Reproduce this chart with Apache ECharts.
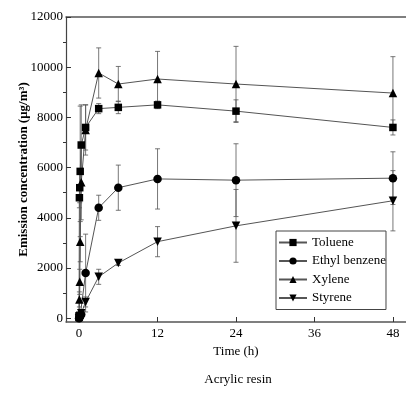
<!DOCTYPE html>
<html>
<head>
<meta charset="utf-8">
<script src="https://cdn.jsdelivr.net/npm/echarts@6/dist/echarts.min.js"></script>
<style>
  html, body { margin: 0; padding: 0; background: #fff; }
  #chart { width: 406px; height: 397px; }
</style>
</head>
<body>
<div id="chart"></div>
<script>
// 采样时间 (h)
var times = [0, 0.05, 0.1, 0.17, 0.33, 1, 3, 6, 12, 24, 48];

// 各物质浓度 / 误差 (μg/m3)
var toluene = [100, 4800, 5200, 5850, 6900, 7600, 8350, 8400, 8500, 8250, 7600];
var tolueneErr = [100, 400, 600, 2600, 1600, 900, 200, 250, 150, 450, 300];
var ethylBenzene = [0, 30, 60, 100, 150, 1800, 4400, 5200, 5550, 5500, 5580];
var ethylBenzeneErr = [20, 50, 80, 100, 150, 1550, 500, 900, 1200, 1450, 1050];
var xylene = [50, 750, 1450, 3050, 5420, 7500, 9770, 9330, 9530, 9330, 8970];
var xyleneErr = [50, 300, 500, 800, 1500, 1000, 1000, 700, 1100, 1500, 1450];
var styrene = [0, 20, 50, 100, 200, 650, 1650, 2200, 3050, 3680, 4680];
var styreneErr = [20, 30, 50, 80, 100, 200, 300, 100, 600, 1450, 1200];

var seriesNames = ['Toluene', 'Ethyl benzene', 'Xylene', 'Styrene'];

// 刻度
var xTicks = [0, 12, 24, 36, 48];
var yTicks = [0, 2000, 4000, 6000, 8000, 10000, 12000];
var yMinorTicks = [1000, 3000, 5000, 7000, 9000, 11000];

var serif = '"Liberation Serif", "DejaVu Serif", serif';

function pairs(values) {
  return times.map(function (t, i) { return [t, values[i]]; });
}
function errPairs(values, errs) {
  return times.map(function (t, i) { return [t, values[i] - errs[i], values[i] + errs[i]]; });
}

// 误差线绘制
function errorBarItem(params, api) {
  var x = api.value(0);
  var lo = api.coord([x, api.value(1)]);
  var hi = api.coord([x, api.value(2)]);
  var w = 2.5;
  var style = { stroke: '#555', lineWidth: 0.8 };
  return {
    type: 'group',
    children: [
      { type: 'line', shape: { x1: hi[0], y1: hi[1], x2: lo[0], y2: lo[1] }, style: style },
      { type: 'line', shape: { x1: hi[0] - w, y1: hi[1], x2: hi[0] + w, y2: hi[1] }, style: style },
      { type: 'line', shape: { x1: lo[0] - w, y1: lo[1], x2: lo[0] + w, y2: lo[1] }, style: style }
    ]
  };
}

function lineSeries(name, values, symbol, rotate) {
  return {
    name: name,
    type: 'line',
    data: pairs(values),
    symbol: symbol,
    symbolSize: symbol === 'rect' ? 7.5 : 8.5,
    symbolRotate: rotate || 0,
    z: 3,
    lineStyle: { color: '#555', width: 1 },
    itemStyle: { color: '#000' }
  };
}

function errSeries(name, values, errs) {
  return {
    name: name + ' err',
    type: 'custom',
    renderItem: errorBarItem,
    data: errPairs(values, errs),
    encode: { x: 0, y: [1, 2] },
    z: 1,
    silent: true
  };
}

var chart = echarts.init(document.getElementById('chart'));
chart.setOption({
  animation: false,
  backgroundColor: '#fff',
  textStyle: { fontFamily: serif, color: '#000' },
  grid: { left: 66, right: -3, top: 17, bottom: 75, containLabel: false },
  legend: {
    data: seriesNames,
    orient: 'vertical',
    left: 276,
    top: 231,
    padding: [5, 0, 5, 2],
    itemGap: 5.5,
    itemWidth: 28,
    itemHeight: 9,
    borderColor: '#444',
    borderWidth: 1,
    textStyle: { fontFamily: serif, fontSize: 13, color: '#000', lineHeight: 13 }
  },
  xAxis: [{
    type: 'value',
    min: -2,
    max: 50,
    name: 'Time (h)',
    nameLocation: 'middle',
    nameGap: 23,
    nameTextStyle: { fontFamily: serif, fontSize: 13, color: '#000' },
    splitLine: { show: false },
    axisLine: { onZero: false, lineStyle: { color: '#555', width: 1.5 } },
    axisTick: { inside: true, length: 5, customValues: xTicks, lineStyle: { color: '#333' } },
    axisLabel: { customValues: xTicks, margin: 5, fontFamily: serif, fontSize: 13, color: '#000' }
  }, {
    type: 'value',
    position: 'top',
    min: -2,
    max: 50,
    splitLine: { show: false },
    axisLine: { show: true, onZero: false, lineStyle: { color: '#555', width: 1.5 } },
    axisTick: { show: false },
    axisLabel: { show: false }
  }],
  yAxis: [{
    type: 'value',
    min: -150,
    max: 12000,
    name: 'Emission concentration (μg/m³)',
    nameLocation: 'middle',
    nameGap: 36,
    nameMoveOverlap: false,
    nameTextStyle: { fontFamily: serif, fontSize: 13, fontWeight: 'bold', color: '#000' },
    splitLine: { show: false },
    axisLine: { show: true, onZero: false, lineStyle: { color: '#444', width: 1.2 } },
    axisTick: { inside: true, length: 5, customValues: yTicks, lineStyle: { color: '#333' } },
    axisLabel: {
      customValues: yTicks,
      margin: 3,
      fontFamily: serif,
      fontSize: 13,
      color: '#000',
      formatter: function (v) { return String(v); }
    }
  }, {
    // 次刻度：放在右侧再平移到左轴位置
    type: 'value',
    position: 'right',
    offset: -343,
    min: -150,
    max: 12000,
    splitLine: { show: false },
    axisLine: { show: false, onZero: false },
    axisTick: { inside: false, length: 3, customValues: yMinorTicks, lineStyle: { color: '#333' } },
    axisLabel: { show: false }
  }],
  graphic: [{
    type: 'text',
    x: 238,
    y: 380,
    style: {
      text: 'Acrylic resin',
      fontFamily: serif,
      fontSize: 13,
      fill: '#000',
      align: 'center',
      verticalAlign: 'middle'
    }
  }],
  series: [
    errSeries('Toluene', toluene, tolueneErr),
    errSeries('Ethyl benzene', ethylBenzene, ethylBenzeneErr),
    errSeries('Xylene', xylene, xyleneErr),
    errSeries('Styrene', styrene, styreneErr),
    lineSeries('Toluene', toluene, 'rect'),
    lineSeries('Ethyl benzene', ethylBenzene, 'circle'),
    lineSeries('Xylene', xylene, 'triangle'),
    lineSeries('Styrene', styrene, 'triangle', 180)
  ]
});
</script>
</body>
</html>
